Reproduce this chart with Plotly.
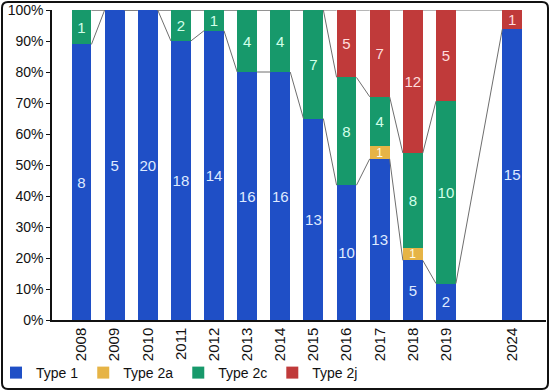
import plotly.graph_objects as go

# ---- data ----
years = ["2008", "2009", "2010", "2011", "2012", "2013", "2014",
         "2015", "2016", "2017", "2018", "2019", "2024"]
type1 = [8, 5, 20, 18, 14, 16, 16, 13, 10, 13, 5, 2, 15]
type2a = [0, 0, 0, 0, 0, 0, 0, 0, 0, 1, 1, 0, 0]
type2c = [1, 0, 0, 2, 1, 4, 4, 7, 8, 4, 8, 10, 0]
type2j = [0, 0, 0, 0, 0, 0, 0, 0, 5, 7, 12, 5, 1]
series_names = ["Type 1", "Type 2a", "Type 2c", "Type 2j"]

# ---- styles ----
colors = ["#1f4fc6", "#e6b446", "#17996b", "#c03a3a"]
text_colors = ["#dfeaff", "#fffbe8", "#d2ffe9", "#ffdcdc"]
text_sizes = [15, 12, 15, 15]
FONT = "Liberation Sans, Arial, sans-serif"
W, H = 550, 392
ML, MR, MT, MB = 52, 4, 10, 72
PW, PH = W - ML - MR, H - MT - MB
BARGAP = 0.4

# slot positions: leave one empty slot for a gap in years
slots = []
s = 0
for i, y in enumerate(years):
    if i > 0 and int(y) - int(years[i - 1]) > 1:
        s += 1
    slots.append(s)
    s += 1

fig = go.Figure()
for name, vals, col, tcol, tsz in zip(series_names, [type1, type2a, type2c, type2j],
                                      colors, text_colors, text_sizes):
    fig.add_trace(go.Bar(
        x=slots, y=vals, name=name,
        marker=dict(color=col, line=dict(width=0)),
        text=[str(v) if v else "" for v in vals],
        textposition="inside", insidetextanchor="middle", textangle=0,
        constraintext="none",
        textfont=dict(family=FONT, size=tsz, color=tcol),
        hoverinfo="skip",
    ))

# ---- connector (series) lines ----
totals = [a + b + c + d for a, b, c, d in zip(type1, type2a, type2c, type2j)]
pct1 = [100 * a / t for a, t in zip(type1, totals)]
pct2c = [100 * (a + b + c) / t for a, b, c, t in zip(type1, type2a, type2c, totals)]
bw = 1 - BARGAP
shapes = []
for k in range(len(years) - 1):
    x0 = slots[k] + bw / 2
    x1 = slots[k + 1] - bw / 2
    lines = [(pct1[k], pct1[k + 1]), (100, 100)]
    if slots[k + 1] - slots[k] == 1:
        lines.append((pct2c[k], pct2c[k + 1]))
    for y0, y1 in lines:
        shapes.append(dict(type="line", xref="x", yref="y", x0=x0, x1=x1, y0=y0, y1=y1,
                           line=dict(color="#6e6e6e", width=1), layer="above"))

# ---- outer rounded frame ----
def px2paper(px, py):
    return (px - ML) / PW, (MT + PH - py) / PH

def P(px, py):
    x, y = px2paper(px, py)
    return f"{x:.5f},{y:.5f}"

fx0, fy0, fx1, fy1, r = 2, 2, 548, 389, 6
path = (f"M {P(fx0 + r, fy0)} L {P(fx1 - r, fy0)} Q {P(fx1, fy0)} {P(fx1, fy0 + r)} "
        f"L {P(fx1, fy1 - r)} Q {P(fx1, fy1)} {P(fx1 - r, fy1)} "
        f"L {P(fx0 + r, fy1)} Q {P(fx0, fy1)} {P(fx0, fy1 - r)} "
        f"L {P(fx0, fy0 + r)} Q {P(fx0, fy0)} {P(fx0 + r, fy0)} Z")
shapes.append(dict(type="path", xref="paper", yref="paper", path=path,
                   line=dict(color="#111111", width=2), layer="above"))

lx, _ = px2paper(-4, 0)
_, ly = px2paper(0, 357)

fig.update_layout(
    width=W, height=H,
    margin=dict(l=ML, r=MR, t=MT, b=MB, autoexpand=False),
    paper_bgcolor="white", plot_bgcolor="white",
    barmode="stack", barnorm="percent", bargap=BARGAP,
    font=dict(family=FONT, size=14, color="#111111"),
    shapes=shapes,
    showlegend=True,
    legend=dict(orientation="h", x=lx, xanchor="left", y=ly, yanchor="top",
                font=dict(family=FONT, size=14, color="#111111"),
                bgcolor="rgba(0,0,0,0)", traceorder="normal"),
    xaxis=dict(range=[-0.89, slots[-1] + 1.02], tickmode="array", tickvals=slots,
               ticktext=years, tickangle=-90, showgrid=False, zeroline=False,
               showline=True, linecolor="#111111", linewidth=1.5, ticks="",
               tickfont=dict(family=FONT, size=15, color="#111111"), fixedrange=True),
    yaxis=dict(range=[0, 100], tickmode="linear", tick0=0, dtick=10, ticksuffix="%",
               showgrid=False, zeroline=False, showline=True, linecolor="#111111",
               linewidth=1.5, ticks="outside", ticklen=4, tickcolor="#111111",
               tickfont=dict(family=FONT, size=14, color="#111111"), fixedrange=True),
)

fig.write_html("out.html", config={"displayModeBar": False},
               post_script="document.body.style.margin='0';")
